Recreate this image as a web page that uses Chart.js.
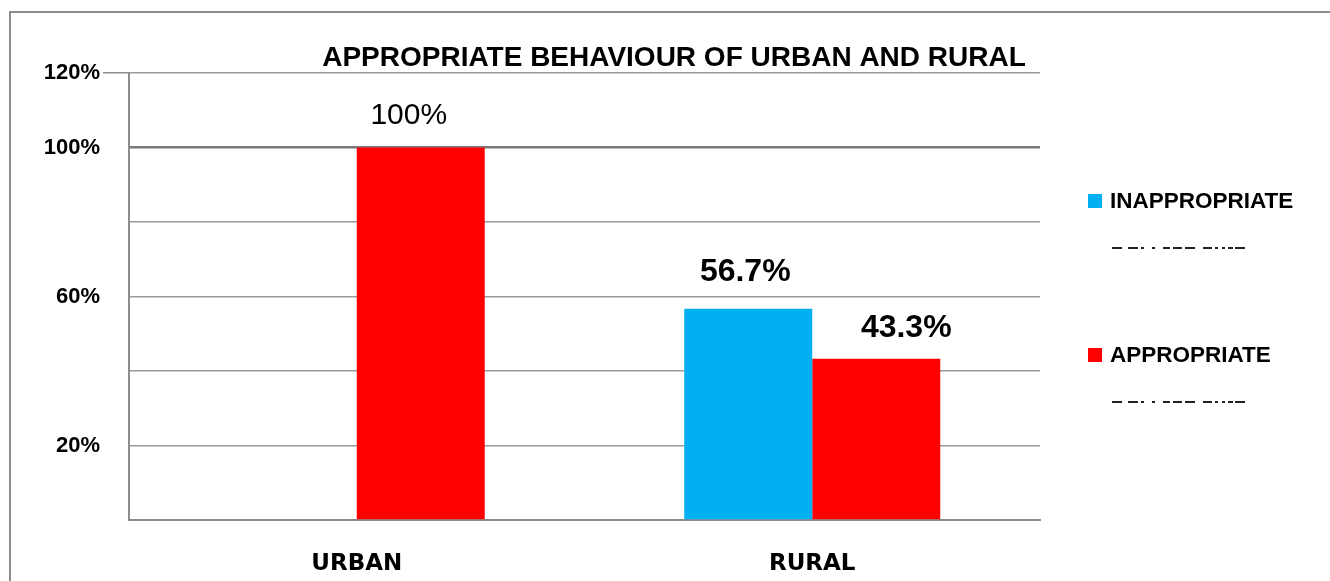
<!DOCTYPE html>
<html>
<head>
<meta charset="utf-8">
<script src="https://cdn.jsdelivr.net/npm/chart.js@4"></script>
<style>
  html, body { margin: 0; padding: 0; background: #fff; }
  #wrap { position: relative; width: 1330px; height: 581px; overflow: hidden; }
  #frame { position: absolute; left: 9px; top: 11px; width: 1400px; height: 700px;
           border-top: 2px solid #8c8c8c; border-left: 2px solid #8c8c8c; }
  #chart { position: absolute; left: 0; top: 0; }
</style>
</head>
<body>
<div id="wrap">
  <div id="frame"></div>
  <canvas id="chart" width="1330" height="581"></canvas>
</div>
<script>
// Du lieu bieu do
const chartTitle = 'APPROPRIATE BEHAVIOUR OF URBAN AND RURAL';
const categories = ['URBAN', 'RURAL'];
const seriesNames = ['INAPPROPRIATE', 'APPROPRIATE'];
const inappropriateValues = [0, 56.7];
const appropriateValues = [100, 43.3];
const labelledTicks = [20, 60, 100, 120];

// Mau va kieu chu
const seriesColors = ['#00B0F0', '#FF0000'];
const labelBold = [[true, true], [false, true]];
const labelNudge = [[[0, 0], [-3, -37]], [[-12, -32], [30, -31]]];
// cac doan gach duoi chu giai (tinh tu mep trai)
const dashSegments = [[0, 10], [16, 26], [29, 32], [40, 43], [51, 58], [61, 70],
                      [73, 83], [91, 100], [103, 106], [110, 113], [116, 121], [123, 133]];

// Ve tieu de
const titlePlugin = {
    id: 'titleText',
    afterDraw(chart) {
        const ctx = chart.ctx;
        ctx.save();
        ctx.fillStyle = '#000';
        ctx.font = 'bold 28px "Liberation Sans", Arial, sans-serif';
        ctx.textAlign = 'center';
        ctx.textBaseline = 'middle';
        ctx.fillText(chartTitle, 674, 58, 712);
        ctx.restore();
    }
};

// Nhan gia tri tren cot
const valueLabels = {
    id: 'valueLabels',
    afterDatasetsDraw(chart) {
        const ctx = chart.ctx;
        ctx.save();
        ctx.fillStyle = '#000';
        ctx.textAlign = 'center';
        ctx.textBaseline = 'middle';
        chart.data.datasets.forEach((ds, di) => {
            chart.getDatasetMeta(di).data.forEach((bar, i) => {
                const v = ds.data[i];
                if (!v) return;
                const nudge = labelNudge[di][i];
                ctx.font = labelBold[di][i]
                    ? 'bold 32px "Liberation Sans", Arial, sans-serif'
                    : '30px "Liberation Sans", Arial, sans-serif';
                ctx.fillText(v + '%', bar.x + nudge[0], bar.y + nudge[1]);
            });
        });
        ctx.restore();
    }
};

// Chu giai ben phai
const sideLegend = {
    id: 'sideLegend',
    afterDraw(chart) {
        const ctx = chart.ctx;
        const rows = [201, 355];
        ctx.save();
        chart.data.datasets.forEach((ds, di) => {
            const y = rows[di];
            ctx.fillStyle = ds.backgroundColor;
            ctx.fillRect(1088, y - 7, 14, 14);
            ctx.fillStyle = '#000';
            ctx.font = 'bold 22.5px "Liberation Sans", Arial, sans-serif';
            ctx.textAlign = 'left';
            ctx.textBaseline = 'middle';
            ctx.fillText(ds.label, 1110, y + 1);
            // duong gach phia duoi
            ctx.fillStyle = '#222';
            dashSegments.forEach(s => ctx.fillRect(1112 + s[0], y + 46, s[1] - s[0], 2));
        });
        ctx.restore();
    }
};

const chart = new Chart(document.getElementById('chart'), {
    type: 'bar',
    data: {
        labels: categories,
        datasets: [
            { label: seriesNames[0], data: inappropriateValues, backgroundColor: seriesColors[0] },
            { label: seriesNames[1], data: appropriateValues, backgroundColor: seriesColors[1] }
        ]
    },
    options: {
        responsive: false,
        animation: false,
        devicePixelRatio: 1,
        layout: { padding: { left: 0, top: 73, right: 290, bottom: 0 } },
        datasets: {
            bar: { categoryPercentage: 0.562, barPercentage: 1, borderWidth: 0 }
        },
        plugins: {
            legend: { display: false },
            tooltip: { enabled: false },
            title: { display: false }
        },
        scales: {
            x: {
                grid: { display: false, drawTicks: false },
                border: { display: true, color: '#8c8c8c', width: 2 },
                ticks: {
                    color: '#000',
                    padding: 30,
                    font: { family: '"DejaVu Sans", sans-serif', weight: 'bold', size: 23 }
                },
                afterFit(scale) { scale.height = 61; }
            },
            y: {
                min: 0,
                max: 120,
                grid: {
                    drawTicks: true,
                    tickLength: 26,
                    tickColor: c => (c.tick && c.tick.value === 120 ? '#8c8c8c' : 'rgba(0,0,0,0)'),
                    color: c => (c.tick && c.tick.value === 100 ? '#7a7a7a' : '#9a9a9a'),
                    lineWidth: c => (c.tick && c.tick.value === 100 ? 2.5 : 1.5)
                },
                border: { display: true, color: '#8c8c8c', width: 2 },
                ticks: {
                    stepSize: 20,
                    padding: 3,
                    color: '#000',
                    font: { family: '"Liberation Sans", Arial, sans-serif', weight: 'bold', size: 22 },
                    callback: v => (labelledTicks.includes(v) ? v + '%' : '')
                },
                afterFit(scale) { scale.width = 129; }
            }
        }
    },
    plugins: [titlePlugin, valueLabels, sideLegend]
});
</script>
</body>
</html>
